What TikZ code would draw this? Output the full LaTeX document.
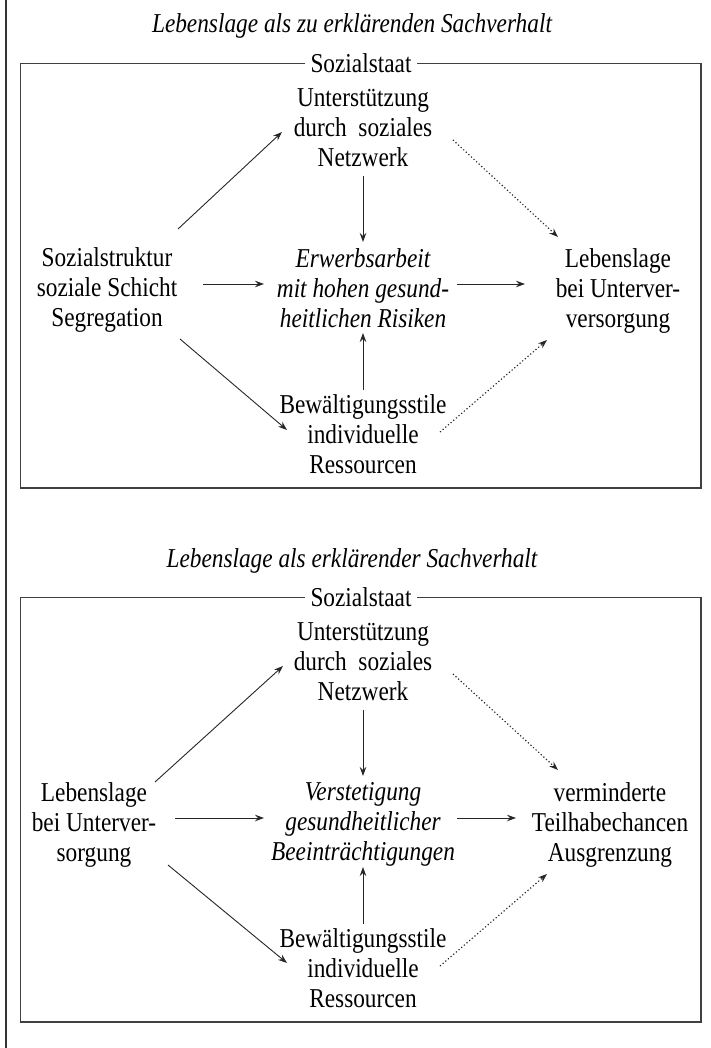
\documentclass[tikz,border=0pt]{standalone}
\usepackage{fontspec}
\setmainfont{Liberation Serif}
\usetikzlibrary{arrows.meta,calc}
\tikzset{
  txt/.style={align=center, font=\fontsize{23.3}{25.6}\selectfont, inner sep=0pt},
  itxt/.style={txt, font=\fontsize{23.3}{25.6}\selectfont\itshape},
  arr/.style={-{Stealth[length=9pt,width=6.5pt,inset=3pt]}, line width=0.9pt, draw=black!85},
  darr/.style={arr, line width=1.15pt, dash pattern=on 1.2pt off 2.3pt},
  frame/.style={line width=1.2pt, draw=black!75},
  lbl/.style={txt, fill=white, inner xsep=6pt, inner ysep=2pt},
  ttl/.style={itxt}
}
% stretched text node: #1 style, #2 position, #3 name, #4 text
\newcommand\lnode[4]{\begin{scope}[shift={#2}, yscale=1.17]\node[#1, transform shape] (#3) at (0,0) {#4};\end{scope}}
\begin{document}
\begin{tikzpicture}[x=1pt,y=-1pt]
\useasboundingbox (0,0) rectangle (710,1048);
\draw[line width=1.4pt, draw=black!80] (6,0) -- (6,1048);

% ---------- upper diagram ----------
\lnode{ttl}{(352,26)}{t1}{Lebenslage als zu erklärenden Sachverhalt}
\draw[frame] (20.5,63.5) rectangle (701,488);
\lnode{lbl}{(361,63.5)}{s1}{Sozialstaat}

\lnode{txt}{(363,128)}{N}{Unterstützung\\durch\enspace soziales\\Netzwerk}
\lnode{txt}{(107,290)}{S}{Sozialstruktur\\soziale Schicht\\Segregation}
\lnode{itxt}{(363,288)}{E}{Erwerbsarbeit\\mit hohen gesund-\\heitlichen Risiken}
\lnode{txt}{(618,291)}{L}{Lebenslage\\bei Unterver-\\versorgung}
\lnode{txt}{(363,434)}{B}{Bewältigungsstile\\individuelle\\Ressourcen}

\draw[arr] ($(S)+(71,-61)$) -- ($(N)+(-81,4)$);
\draw[arr] ($(S)+(96,-6)$) -- ($(E)+(-99,-4)$);
\draw[arr] ($(S)+(73,49)$) -- ($(B)+(-76,-4)$);
\draw[arr] ($(N)+(0,48)$) -- ($(E)+(0,-46)$);
\draw[arr] ($(B)+(0,-44)$) -- ($(E)+(0,45)$);
\draw[arr] ($(E)+(94,-4)$) -- ($(L)+(-93,-7)$);
\draw[darr] ($(N)+(90,12)$) -- ($(L)+(-60,-54)$);
\draw[darr] ($(B)+(77,-2)$) -- ($(L)+(-71,49)$);

% ---------- lower diagram ----------
\lnode{ttl}{(352,561)}{t2}{Lebenslage als erklärender Sachverhalt}
\draw[frame] (20.5,597.5) rectangle (701,1022);
\lnode{lbl}{(361,597.5)}{s2}{Sozialstaat}

\lnode{txt}{(363,662)}{N2}{Unterstützung\\durch\enspace soziales\\Netzwerk}
\lnode{txt}{(94,825)}{S2}{Lebenslage\\bei Unterver-\\sorgung}
\lnode{itxt}{(363,824)}{E2}{Verstetigung\\gesundheitlicher\\Beeinträchtigungen}
\lnode{txt}{(610,825)}{L2}{verminderte\\Teilhabechancen\\Ausgrenzung}
\lnode{txt}{(363,968)}{B2}{Bewältigungsstile\\individuelle\\Ressourcen}

\draw[arr] ($(S2)+(61,-43)$) -- ($(N2)+(-80,4)$);
\draw[arr] ($(S2)+(81,-7)$) -- ($(E2)+(-99,-6)$);
\draw[arr] ($(S2)+(74,40)$) -- ($(B2)+(-76,-5)$);
\draw[arr] ($(N2)+(0,48)$) -- ($(E2)+(0,-48)$);
\draw[arr] ($(B2)+(0,-44)$) -- ($(E2)+(0,43)$);
\draw[arr] ($(E2)+(94,-6)$) -- ($(L2)+(-94,-7)$);
\draw[darr] ($(N2)+(90,12)$) -- ($(L2)+(-52,-55)$);
\draw[darr] ($(B2)+(77,-2)$) -- ($(L2)+(-63,49)$);
\end{tikzpicture}
\end{document}
